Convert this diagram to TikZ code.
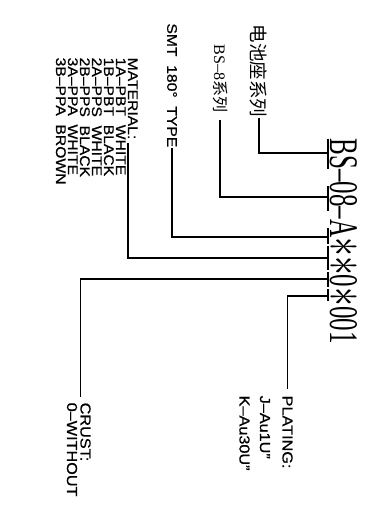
\documentclass[tikz,border=0pt]{standalone}
\usepackage{fontspec}
\usepackage{graphicx}
\setmainfont{Liberation Serif}
\newfontfamily\lsans[FakeStretch=1.12,FakeBold=0.6]{Liberation Sans}
\newfontfamily\lsansb[FakeStretch=1.12,FakeBold=0.6]{Liberation Sans}
\newfontfamily\cjk{Noto Sans CJK SC}
\newcommand\codeast{\raisebox{-0.04em}{\scalebox{1.5}{$\ast$}}}
\begin{document}
\begin{tikzpicture}[x=1pt,y=-1pt,line width=1.3pt,
  lab/.style={rotate=-90,inner sep=0pt},
  sanslab/.style={lab,font=\lsans\fontsize{14pt}{14pt}\selectfont},
  biglab/.style={lab,font=\lsansb\fontsize{14.5pt}{15pt}\selectfont},
  tickline/.style={line width=1.3pt},
  conn/.style={line width=1.3pt}]
\useasboundingbox (0,0) rectangle (366,517);
% main code
\node[lab,anchor=base west] (code) at (330,138)
  {\resizebox{205pt}{27pt}{BS–08–A\codeast\codeast0\codeast001}};
% ticks under the code
\coordinate (t1a) at (328,139); \coordinate (t1b) at (328,169); \coordinate (c1) at (328,153);
\coordinate (t2a) at (328,186); \coordinate (t2b) at (328,211); \coordinate (c2) at (328,197);
\coordinate (t3a) at (328,228); \coordinate (t3b) at (328,244); \coordinate (c3) at (328,237);
\coordinate (t4a) at (328,246); \coordinate (t4b) at (328,270); \coordinate (c4) at (328,258);
\coordinate (t5a) at (328,272); \coordinate (t5b) at (328,287); \coordinate (c5) at (328,279);
\coordinate (t6a) at (328,289); \coordinate (t6b) at (328,301); \coordinate (c6) at (328,296);
\foreach \i in {1,...,6} {\draw[tickline] (t\i a) -- (t\i b);}
% labels
\node[lab,anchor=east,font=\cjk\fontsize{18.5pt}{19pt}\selectfont] (L1) at (259,118) {电池座系列};
\node[lab,anchor=east,font=\fontsize{16pt}{17pt}\selectfont] (L2) at (220,113) {BS–8{\cjk 系列}};
\node[sanslab,anchor=east] (L3) at (172,148) {SMT\ \ 180°\ \ TYPE};
\node[sanslab,anchor=base west] (m0) at (128,57) {MATERIAL:};
\node[sanslab,anchor=base west] (m1) at (116,57) {1A–PBT\ \ WHITE};
\node[sanslab,anchor=base west] (m2) at (104,57) {1B–PBT\ \ BLACK};
\node[sanslab,anchor=base west] (m3) at (92,57) {2A–PPS\ \ WHITE};
\node[sanslab,anchor=base west] (m4) at (80,57) {2B–PPS\ \ BLACK};
\node[sanslab,anchor=base west] (m5) at (68,57) {3A–PPA\ \ WHITE};
\node[sanslab,anchor=base west] (m6) at (56,57) {3B–PPA\ \ BROWN};
\node[biglab,anchor=base west] (p0) at (282.5,395) {PLATING:};
\node[biglab,anchor=base west] (p1) at (260,395) {J–Au1U”};
\node[biglab,anchor=base west] (p2) at (239.5,395) {K–Au30U”};
\node[biglab,anchor=base west] (r0) at (80.5,402) {CRUST:};
\node[biglab,anchor=base west] (r1) at (67,402) {0–WITHOUT};
% connectors
\draw[conn] (L1.east) |- (c1);
\draw[conn,shorten <=7pt] (L2.east) |- (c2);
\draw[conn] (L3.east) |- (c3);
\draw[conn,shorten <=3pt] (m0.base east) |- (c4);
\draw[conn,shorten <=5pt] (r0.base west) |- (c5);
\draw[conn,shorten <=6pt] (p0.west) |- (c6);
\end{tikzpicture}
\end{document}
